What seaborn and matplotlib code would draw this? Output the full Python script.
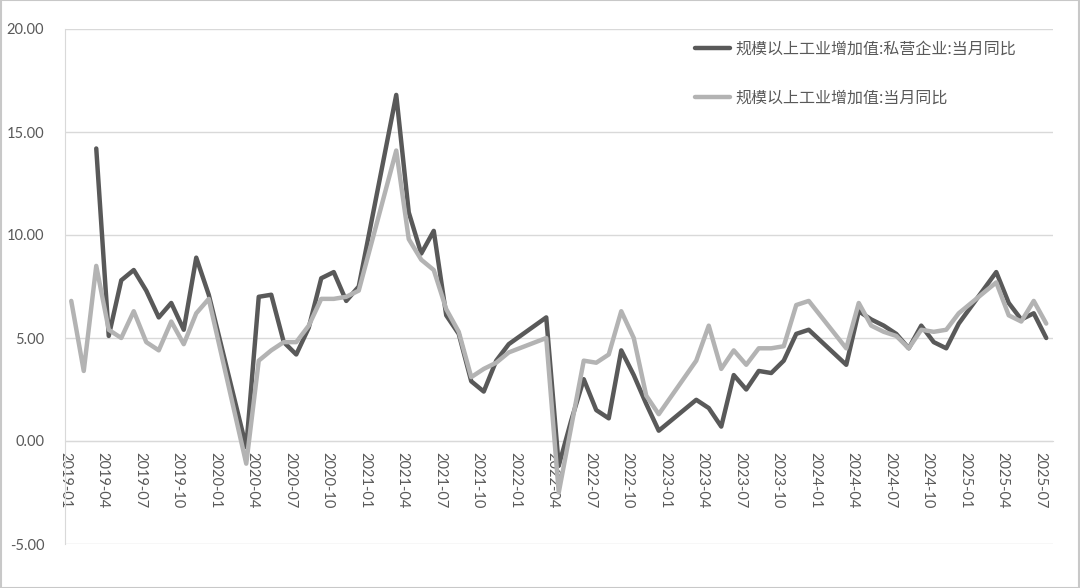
import numpy as np
import pandas as pd
import matplotlib
matplotlib.use("Agg")
import matplotlib.pyplot as plt
import matplotlib.transforms as mtransforms
from matplotlib.patches import Rectangle
from matplotlib.ticker import FixedLocator
import seaborn as sns

nan = np.nan

months = pd.period_range("2019-01", "2025-07", freq="M").strftime("%Y-%m").tolist()

label_private = "规模以上工业增加值:私营企业:当月同比"
label_total = "规模以上工业增加值:当月同比"

private = [
    nan, nan, 14.2, 5.1, 7.8, 8.3, 7.3, 6.0, 6.7, 5.4, 8.9, 7.1,
    nan, nan, -0.3, 7.0, 7.1, 4.8, 4.2, 5.5, 7.9, 8.2, 6.8, 7.5,
    nan, nan, 16.8, 11.1, 9.1, 10.2, 6.1, 5.2, 2.9, 2.4, 3.9, 4.7,
    nan, nan, 6.0, -1.2, 1.0, 3.0, 1.5, 1.1, 4.4, 3.2, 1.8, 0.5,
    nan, nan, 2.0, 1.6, 0.7, 3.2, 2.5, 3.4, 3.3, 3.9, 5.2, 5.4,
    nan, nan, 3.7, 6.3, 5.9, 5.6, 5.2, 4.5, 5.6, 4.8, 4.5, 5.7,
    nan, nan, 8.2, 6.7, 5.9, 6.2, 5.0,
]

total = [
    6.8, 3.4, 8.5, 5.4, 5.0, 6.3, 4.8, 4.4, 5.8, 4.7, 6.2, 6.9,
    nan, nan, -1.1, 3.9, 4.4, 4.8, 4.8, 5.6, 6.9, 6.9, 7.0, 7.3,
    nan, nan, 14.1, 9.8, 8.8, 8.3, 6.4, 5.3, 3.1, 3.5, 3.8, 4.3,
    nan, nan, 5.0, -2.5, 0.7, 3.9, 3.8, 4.2, 6.3, 5.0, 2.2, 1.3,
    nan, nan, 3.9, 5.6, 3.5, 4.4, 3.7, 4.5, 4.5, 4.6, 6.6, 6.8,
    nan, nan, 4.5, 6.7, 5.6, 5.3, 5.1, 4.5, 5.4, 5.3, 5.4, 6.2,
    nan, nan, 7.7, 6.1, 5.8, 6.8, 5.7,
]

y_ticks = [-5, 0, 5, 10, 15, 20]
tick_months = months[::3]

sns.set_style("white")
plt.rcParams["font.family"] = ["Noto Sans CJK SC", "DejaVu Sans"]

df = pd.DataFrame({"month": months, label_private: private, label_total: total})
df["pos"] = np.arange(len(df)) + 0.5
long = df.melt(id_vars=["month", "pos"], var_name="series", value_name="value").dropna()

fig = plt.figure(figsize=(10.8, 5.88), dpi=100)
ax = fig.add_axes([65 / 1080, 1 - 544 / 588, (1052.5 - 65) / 1080, (544 - 29) / 588])

sns.lineplot(
    data=long, x="pos", y="value", hue="series",
    hue_order=[label_private, label_total],
    palette=["#595959", "#b3b3b3"], linewidth=3.2,
    estimator=None, sort=True, ax=ax,
)

grid_c = "#d9d9d9"
text_c = "#595959"

ax.set_xlim(0, len(months))
ax.set_ylim(-5, 20)
ax.set_xlabel("")
ax.set_ylabel("")

# y axis
ax.set_yticks(y_ticks)
ax.set_yticklabels([f"{v:.2f}" for v in y_ticks])
ax.tick_params(axis="y", length=5, width=1, color=grid_c, labelcolor=text_c,
               labelsize=10.5, pad=10, labelfontfamily="Lato")
ax.yaxis.grid(True, color=grid_c, linewidth=1)
ax.set_axisbelow(True)

# x axis
idx = [months.index(m) for m in tick_months]
ax.set_xticks(idx)
ax.set_xticklabels(tick_months)
ax.xaxis.set_minor_locator(FixedLocator(range(len(months) + 1)))
ax.tick_params(axis="x", which="major", length=5, width=1, color=grid_c,
               labelcolor=text_c, labelsize=10.5, pad=3, direction="out",
               labelrotation=270, labelfontfamily="Lato")
ax.tick_params(axis="x", which="minor", length=3, width=1, color=grid_c,
               direction="in")
offset = mtransforms.ScaledTranslation(5 / 100, 0, fig.dpi_scale_trans)
for lbl in ax.get_xticklabels():
    lbl.set_transform(lbl.get_transform() + offset)
    lbl.set_va("top")
    lbl.set_ha("center")

for s in ["top", "right"]:
    ax.spines[s].set_visible(False)
ax.spines["bottom"].set_position(("data", 0))
ax.spines["bottom"].set_color(grid_c)
ax.spines["left"].set_color(grid_c)
ax.spines["bottom"].set_zorder(0.5)

# legend
handles, labels = ax.get_legend_handles_labels()
ax.get_legend().remove()
leg = fig.legend(
    handles, labels, loc="upper left",
    bbox_to_anchor=(695 / 1080, 1 - 41 / 588),
    frameon=False, fontsize=11.5, handlelength=2.2, handletextpad=0.3,
    labelspacing=2.0, borderpad=0, borderaxespad=0,
)
for t in leg.get_texts():
    t.set_color(text_c)

fig.add_artist(Rectangle((0.0005, 0.0008), 0.999, 0.9985, transform=fig.transFigure,
                         fill=False, ec="#c8c8c8", lw=1.5))

fig.savefig("out.png", dpi=100, facecolor="white")
